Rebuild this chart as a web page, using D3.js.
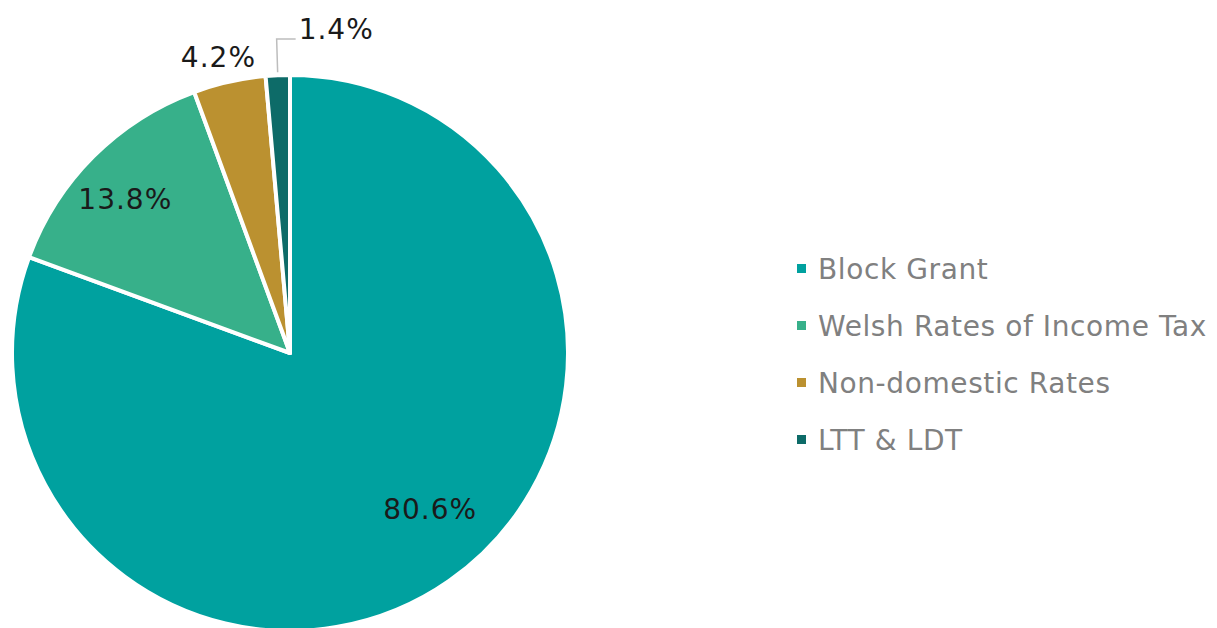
<!DOCTYPE html>
<html>
<head>
<meta charset="utf-8">
<script src="https://cdn.jsdelivr.net/npm/d3@7"></script>
<style>
  body { margin: 0; background: #fff; }
  text { font-family: "DejaVu Sans", sans-serif; }
</style>
</head>
<body>
<div id="chart"></div>
<script>
const WIDTH = 1217;
const HEIGHT = 628;

const categories = ["Block Grant", "Welsh Rates of Income Tax", "Non-domestic Rates", "LTT & LDT"];
const shares = [80.6, 13.8, 4.2, 1.4];
const colors = ["#00a19f", "#37b08a", "#bb9130", "#0d6b68"];

const CX = 290, CY = 353, R = 278;

const svg = d3.select("#chart").append("svg")
    .attr("width", WIDTH)
    .attr("height", HEIGHT);

const data = categories.map((c, i) => ({name: c, value: shares[i], color: colors[i]}));

const pie = d3.pie()
    .sort(null)
    .value(d => d.value);

const arc = d3.arc().innerRadius(0).outerRadius(R);

const g = svg.append("g").attr("transform", `translate(${CX},${CY})`);

const arcs = pie(data);

g.selectAll("path.slice")
    .data(arcs)
    .enter()
    .append("path")
    .attr("class", "slice")
    .attr("d", arc)
    .attr("fill", d => d.data.color)
    .attr("stroke", "#fff")
    .attr("stroke-width", 4)
    .attr("stroke-linejoin", "round");

// label placement: radius factor and small angle nudge (degrees)
const labelR = [0.755, 0.81, 1.095];
const labelNudge = [-7, -2, -1];
function midAngle(d) { return (d.startAngle + d.endAngle) / 2; }
function polar(a, r) { return [Math.sin(a) * r, -Math.cos(a) * r]; }
const fmt = d => d3.format(".1f")(d) + "%";

arcs.forEach((d, i) => {
  if (i < 3) {
    const p = polar(midAngle(d) + labelNudge[i] * Math.PI / 180, R * labelR[i]);
    g.append("text")
      .attr("x", p[0])
      .attr("y", p[1])
      .attr("text-anchor", "middle")
      .attr("dominant-baseline", "central")
      .attr("font-size", 28)
      .attr("letter-spacing", 1)
      .attr("fill", "#1a1a1a")
      .text(fmt(d.data.value));
  } else {
    // leader line for the thin slice
    const a = midAngle(d);
    const p0 = polar(a, R + 3);
    const p1 = [p0[0] - 1, -R - 36];
    const p2 = [p0[0] + 18, -R - 36];
    g.append("polyline")
      .attr("points", [p0, p1, p2].map(p => p.join(",")).join(" "))
      .attr("fill", "none")
      .attr("stroke", "#bdbdbd")
      .attr("stroke-width", 1.5);
    g.append("text")
      .attr("x", p2[0] + 3)
      .attr("y", p2[1])
      .attr("font-size", 28)
      .attr("letter-spacing", 1)
      .attr("fill", "#1a1a1a")
      .text(fmt(d.data.value));
  }
});

// legend
const legendY = d3.scalePoint()
    .domain(categories)
    .range([268, 439]);

const items = svg.append("g").selectAll("g.item")
    .data(data)
    .enter()
    .append("g")
    .attr("class", "item")
    .attr("transform", d => `translate(797,${legendY(d.name)})`);

items.append("rect")
    .attr("x", 0)
    .attr("y", -4)
    .attr("width", 9)
    .attr("height", 9)
    .attr("fill", d => d.color);

items.append("text")
    .attr("x", 21)
    .attr("y", 1)
    .attr("dominant-baseline", "central")
    .attr("font-size", 28)
    .attr("letter-spacing", 0.6)
    .attr("fill", "#808080")
    .text(d => d.name);
</script>
</body>
</html>
